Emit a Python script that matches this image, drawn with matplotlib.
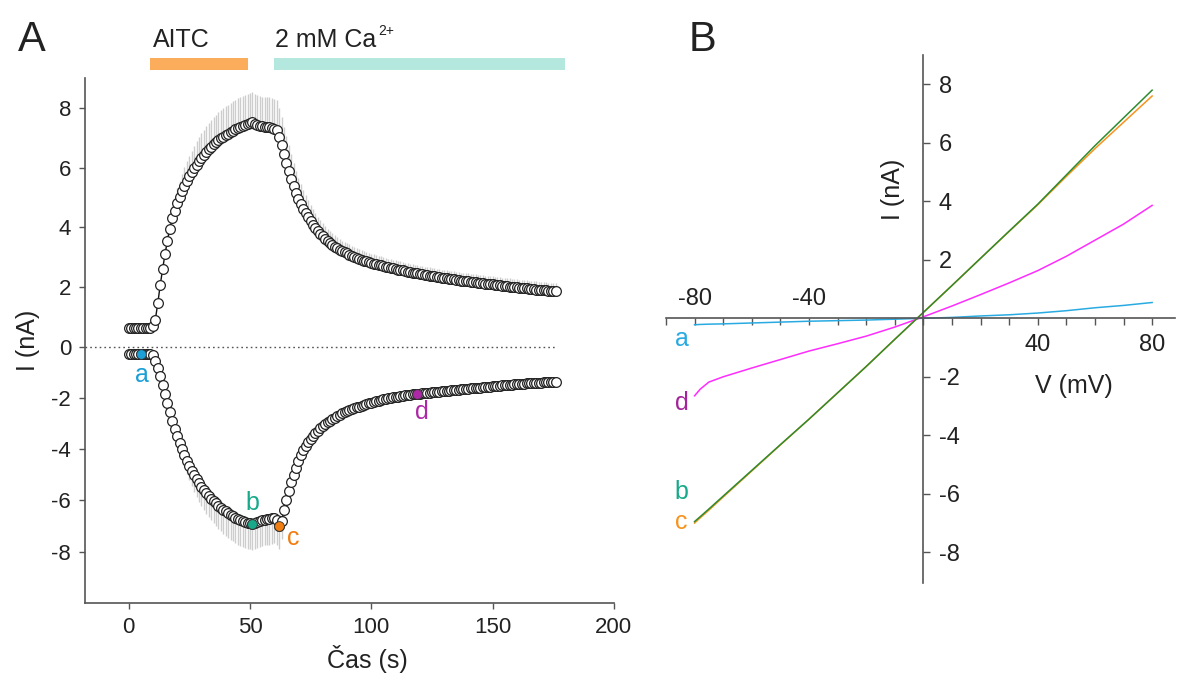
import numpy as np
import matplotlib
matplotlib.use("Agg")
import matplotlib.pyplot as plt
import matplotlib.transforms as mtransforms

plt.rcParams['font.family'] = ['Liberation Sans', 'DejaVu Sans']

# ---------------- panel A data (1 s sampling, 0..176 s) ----------------
time_s = np.arange(0, 177)

pos_current = [
    0.62, 0.62, 0.61, 0.62, 0.62, 0.61, 0.62, 0.62, 0.62, 0.63,
    0.68, 0.90, 1.45, 2.05, 2.60, 3.10, 3.55, 3.95, 4.30, 4.55,
    4.80, 5.00, 5.20, 5.38, 5.55, 5.70, 5.85, 5.98, 6.10, 6.22,
    6.33, 6.43, 6.53, 6.62, 6.70, 6.78, 6.85, 6.92, 6.98, 7.04,
    7.09, 7.14, 7.19, 7.24, 7.28, 7.32, 7.36, 7.40, 7.43, 7.47,
    7.50, 7.52, 7.46, 7.42, 7.40, 7.38, 7.37, 7.36, 7.35, 7.33,
    7.30, 7.25, 7.02, 6.75, 6.45, 6.15, 5.88, 5.62, 5.38, 5.16,
    4.96, 4.78, 4.62, 4.47, 4.33, 4.20, 4.08, 3.97, 3.87, 3.78,
    3.69, 3.61, 3.54, 3.47, 3.41, 3.35, 3.30, 3.25, 3.20, 3.16,
    3.12, 3.08, 3.04, 3.00, 2.97, 2.94, 2.91, 2.88, 2.85, 2.83,
    2.80, 2.78, 2.76, 2.74, 2.72, 2.70, 2.68, 2.66, 2.64, 2.62,
    2.60, 2.58, 2.56, 2.55, 2.53, 2.51, 2.50, 2.48, 2.46, 2.45,
    2.43, 2.42, 2.40, 2.39, 2.37, 2.36, 2.35, 2.33, 2.32, 2.31,
    2.30, 2.28, 2.27, 2.26, 2.25, 2.24, 2.22, 2.21, 2.20, 2.19,
    2.18, 2.17, 2.16, 2.15, 2.14, 2.13, 2.12, 2.11, 2.10, 2.09,
    2.08, 2.07, 2.06, 2.05, 2.04, 2.03, 2.02, 2.01, 2.00, 1.99,
    1.98, 1.97, 1.96, 1.95, 1.95, 1.94, 1.93, 1.92, 1.91, 1.90,
    1.90, 1.89, 1.88, 1.87, 1.87, 1.86, 1.85,
]

pos_sem = [
    0.05, 0.05, 0.05, 0.05, 0.05, 0.05, 0.05, 0.05, 0.05, 0.05,
    0.05, 0.08, 0.12, 0.15, 0.20, 0.25, 0.30, 0.35, 0.40, 0.45,
    0.50, 0.55, 0.60, 0.63, 0.66, 0.70, 0.72, 0.75, 0.78, 0.80,
    0.82, 0.84, 0.86, 0.88, 0.90, 0.91, 0.92, 0.93, 0.94, 0.95,
    0.96, 0.97, 0.98, 0.98, 0.99, 1.00, 1.00, 1.00, 1.00, 1.00,
    1.00, 1.00, 1.00, 1.00, 1.00, 1.00, 1.00, 1.00, 1.00, 1.00,
    1.00, 1.00, 0.98, 0.95, 0.92, 0.90, 0.86, 0.82, 0.78, 0.74,
    0.70, 0.67, 0.64, 0.61, 0.58, 0.55, 0.52, 0.50, 0.48, 0.46,
    0.44, 0.42, 0.41, 0.40, 0.39, 0.38, 0.37, 0.36, 0.35, 0.35,
    0.34, 0.34, 0.33, 0.33, 0.33, 0.32, 0.32, 0.32, 0.31, 0.31,
    0.31, 0.31, 0.30, 0.30, 0.30, 0.30, 0.30, 0.29, 0.29, 0.29,
    0.29, 0.29, 0.29, 0.29, 0.28, 0.28, 0.28, 0.28, 0.28, 0.28,
    0.28, 0.28, 0.28, 0.28, 0.28, 0.27, 0.27, 0.27, 0.27, 0.27,
    0.27, 0.27, 0.27, 0.27, 0.27, 0.27, 0.27, 0.27, 0.27, 0.27,
    0.27, 0.27, 0.27, 0.27, 0.27, 0.27, 0.27, 0.27, 0.27, 0.27,
    0.27, 0.27, 0.27, 0.27, 0.27, 0.27, 0.27, 0.27, 0.27, 0.27,
    0.27, 0.27, 0.27, 0.27, 0.27, 0.27, 0.27, 0.27, 0.27, 0.27,
    0.27, 0.27, 0.27, 0.27, 0.27, 0.27, 0.27,
]

neg_current = [
    -0.29, -0.30, -0.30, -0.29, -0.30, -0.30, -0.30, -0.29, -0.30, -0.30,
    -0.35, -0.55, -0.85, -1.15, -1.50, -1.85, -2.20, -2.55, -2.90, -3.20,
    -3.50, -3.75, -4.00, -4.22, -4.45, -4.65, -4.85, -5.02, -5.18, -5.33,
    -5.47, -5.60, -5.72, -5.83, -5.93, -6.03, -6.12, -6.20, -6.28, -6.36,
    -6.43, -6.50, -6.56, -6.62, -6.67, -6.72, -6.77, -6.81, -6.85, -6.88,
    -6.90, -6.92, -6.88, -6.84, -6.80, -6.77, -6.75, -6.73, -6.72, -6.70,
    -6.68, -6.75, -7.00, -6.82, -6.38, -5.98, -5.62, -5.30, -5.00, -4.72,
    -4.46, -4.24, -4.05, -3.88, -3.73, -3.60, -3.48, -3.38, -3.28, -3.19,
    -3.11, -3.03, -2.96, -2.89, -2.83, -2.77, -2.71, -2.66, -2.61, -2.56,
    -2.52, -2.48, -2.44, -2.40, -2.37, -2.34, -2.31, -2.28, -2.25, -2.22,
    -2.19, -2.16, -2.13, -2.11, -2.08, -2.06, -2.04, -2.02, -2.00, -1.98,
    -1.96, -1.95, -1.93, -1.92, -1.90, -1.89, -1.88, -1.87, -1.86, -1.85,
    -1.84, -1.83, -1.82, -1.81, -1.80, -1.79, -1.78, -1.77, -1.76, -1.75,
    -1.74, -1.73, -1.72, -1.71, -1.70, -1.69, -1.68, -1.67, -1.66, -1.65,
    -1.64, -1.63, -1.62, -1.62, -1.61, -1.60, -1.59, -1.58, -1.57, -1.56,
    -1.55, -1.55, -1.54, -1.53, -1.52, -1.51, -1.50, -1.50, -1.49, -1.48,
    -1.47, -1.47, -1.46, -1.45, -1.44, -1.44, -1.43, -1.42, -1.42, -1.41,
    -1.41, -1.40, -1.40, -1.39, -1.39, -1.38, -1.38,
]

neg_sem = [
    0.03, 0.03, 0.03, 0.03, 0.03, 0.03, 0.03, 0.03, 0.03, 0.03,
    0.03, 0.05, 0.07, 0.10, 0.13, 0.16, 0.20, 0.24, 0.28, 0.32,
    0.36, 0.40, 0.44, 0.48, 0.52, 0.56, 0.60, 0.64, 0.68, 0.72,
    0.75, 0.78, 0.80, 0.82, 0.84, 0.86, 0.88, 0.90, 0.92, 0.94,
    0.95, 0.96, 0.97, 0.98, 0.99, 1.00, 1.00, 1.00, 1.00, 1.00,
    1.00, 1.00, 1.00, 1.00, 1.00, 1.00, 1.00, 1.00, 1.00, 1.00,
    1.00, 1.00, 0.90, 0.70, 0.55, 0.45, 0.38, 0.32, 0.28, 0.25,
    0.23, 0.21, 0.20, 0.19, 0.18, 0.17, 0.16, 0.16, 0.15, 0.15,
    0.14, 0.14, 0.14, 0.13, 0.13, 0.13, 0.13, 0.12, 0.12, 0.12,
    0.12, 0.12, 0.12, 0.11, 0.11, 0.11, 0.11, 0.11, 0.11, 0.11,
    0.11, 0.11, 0.10, 0.10, 0.10, 0.10, 0.10, 0.10, 0.10, 0.10,
    0.10, 0.10, 0.10, 0.10, 0.10, 0.10, 0.10, 0.10, 0.10, 0.10,
    0.10, 0.10, 0.10, 0.10, 0.10, 0.10, 0.10, 0.10, 0.10, 0.10,
    0.10, 0.10, 0.10, 0.10, 0.10, 0.10, 0.10, 0.10, 0.10, 0.10,
    0.10, 0.10, 0.10, 0.10, 0.10, 0.10, 0.10, 0.10, 0.10, 0.10,
    0.10, 0.10, 0.10, 0.10, 0.10, 0.10, 0.10, 0.10, 0.10, 0.10,
    0.10, 0.10, 0.10, 0.10, 0.10, 0.10, 0.10, 0.10, 0.10, 0.10,
    0.10, 0.10, 0.10, 0.10, 0.10, 0.10, 0.10,
]

# marked sample times (s) and their colours
mark_names = ['a', 'b', 'c', 'd']
mark_times = [5, 51, 62, 119]
mark_colors = ['#1b9fd6', '#17a98a', '#f07e12', '#ad28a6']
label_colors_b = ['#29abe2', '#17a98a', '#f7931e', '#a3249b']

# application bars (s)
aitc_span = (9, 49)
ca_span = (60, 180)

# ---------------- panel B data (I-V ramps) ----------------
volt_mv = [-80, -78, -75, -70, -60, -50, -40, -30, -20, -10, 0, 10, 20, 30, 40, 50, 60, 70, 80]
iv_a = [-0.22, -0.21, -0.20, -0.19, -0.16, -0.13, -0.10, -0.08, -0.06, -0.03, 0.0,
        0.03, 0.08, 0.12, 0.18, 0.26, 0.36, 0.44, 0.54]
iv_b = [-6.95, -6.78, -6.52, -6.08, -5.20, -4.32, -3.45, -2.55, -1.65, -0.72, 0.20,
        1.12, 2.05, 2.98, 3.90, 4.90, 5.90, 6.85, 7.80]
iv_c = [-7.00, -6.82, -6.56, -6.11, -5.22, -4.33, -3.45, -2.55, -1.65, -0.72, 0.20,
        1.12, 2.05, 2.97, 3.88, 4.85, 5.80, 6.70, 7.60]
iv_d = [-2.65, -2.42, -2.18, -2.00, -1.70, -1.41, -1.12, -0.87, -0.61, -0.30, 0.05,
        0.42, 0.81, 1.21, 1.63, 2.12, 2.67, 3.22, 3.86]
iv_colors = {'a': '#29abe2', 'b': '#2e8b2e', 'c': '#f7931e', 'd': '#ff2cff'}

TXT = '#222222'
SPINE = '#555555'
FS = 16     # tick labels
FL = 18     # labels and letters

fig = plt.figure(figsize=(11.77, 6.73), dpi=100)

# ---------------- panel A ----------------
axA = fig.add_axes([0.0722, 0.104, 0.4494, 0.780])

NEG_RATIO = 0.86  # negative half of the axis is compressed in the original


def fwd(y):
    y = np.asarray(y, dtype=float)
    return np.where(y < 0, y * NEG_RATIO, y)


def inv(y):
    y = np.asarray(y, dtype=float)
    return np.where(y < 0, y / NEG_RATIO, y)


axA.set_yscale('function', functions=(fwd, inv))

pos = np.array(pos_current)
neg = np.array(neg_current)
axA.vlines(time_s, pos, pos + np.array(pos_sem), color='#cdcdcd', lw=1.0, zorder=1)
axA.vlines(time_s, neg, neg - np.array(neg_sem), color='#cdcdcd', lw=1.0, zorder=1)
axA.plot([-18, 176], [0, 0], ls=(0, (1.2, 2.2)), color='#555555', lw=1.0, zorder=2)

for y in (pos, neg):
    axA.plot(time_s, y, color='#111111', lw=1.0, marker='o', ms=7,
             mfc='white', mec='#222222', mew=0.9, zorder=3)

for name, t, col in zip(mark_names, mark_times, mark_colors):
    axA.plot(t, neg[t], 'o', ms=7, mfc=col, mec='#333333', mew=0.6, zorder=4)

axA.text(5.5, -1.1, 'a', color=mark_colors[0], fontsize=FL, ha='center', va='center')
axA.text(51, -6.1, 'b', color=mark_colors[1], fontsize=FL, ha='center', va='center')
axA.text(68, -7.45, 'c', color=mark_colors[2], fontsize=FL, ha='center', va='center')
axA.text(121, -2.55, 'd', color=mark_colors[3], fontsize=FL, ha='center', va='center')

axA.set_xlim(-18, 200)
axA.set_ylim(-10, 9)
axA.set_xticks([0, 50, 100, 150, 200])
axA.set_yticks([-8, -6, -4, -2, 0, 2, 4, 6, 8])
axA.set_yticklabels(['-8', '-6', '-4', '-2', '0', '2', '4', '6', '8'])
axA.spines['top'].set_visible(False)
axA.spines['right'].set_visible(False)
for s in ('left', 'bottom'):
    axA.spines[s].set_color(SPINE)
    axA.spines[s].set_linewidth(1.2)
axA.tick_params(length=4, width=1, color=SPINE, labelsize=FS, labelcolor=TXT, pad=6)
axA.text(0.533, -0.107, 'Čas (s)', transform=axA.transAxes, fontsize=FL, color=TXT,
         ha='center', va='center')
axA.set_ylabel('I (nA)', fontsize=FL, color=TXT, labelpad=8)

# application bars above the axes
trans = mtransforms.blended_transform_factory(axA.transData, axA.transAxes)
axA.add_patch(plt.Rectangle((aitc_span[0], 1.015), aitc_span[1] - aitc_span[0], 0.023,
                            transform=trans, color='#fbad5c', clip_on=False, lw=0))
axA.add_patch(plt.Rectangle((ca_span[0], 1.015), ca_span[1] - ca_span[0], 0.023,
                            transform=trans, color='#b4e8df', clip_on=False, lw=0))
axA.text(aitc_span[0] + 1, 1.05, 'AITC', transform=trans, fontsize=FL, color=TXT,
         ha='left', va='bottom')
ca_txt = axA.text(ca_span[0] + 0.5, 1.05, '2 mM Ca', transform=trans, fontsize=FL,
                  color=TXT, ha='left', va='bottom')
axA.annotate('2+', xy=(1, 0.58), xycoords=ca_txt, xytext=(1, 0), textcoords='offset points',
             fontsize=10, color=TXT, ha='left', va='bottom')

fig.text(0.015, 0.94, 'A', fontsize=30, color=TXT, ha='left', va='center')
fig.text(0.585, 0.94, 'B', fontsize=30, color=TXT, ha='left', va='center')

# ---------------- panel B ----------------
axB = fig.add_axes([0.5658, 0.1337, 0.4325, 0.7845])
axB.plot(volt_mv, iv_a, color=iv_colors['a'], lw=1.1)
axB.plot(volt_mv, iv_d, color=iv_colors['d'], lw=1.1)
axB.plot(volt_mv, iv_c, color=iv_colors['c'], lw=1.1)
axB.plot(volt_mv, iv_b, color=iv_colors['b'], lw=1.1)

axB.set_xlim(-90, 88)
axB.set_ylim(-9.05, 9.0)
axB.spines['top'].set_visible(False)
axB.spines['left'].set_visible(False)
axB.spines['right'].set_position(('data', 0))
axB.spines['bottom'].set_position(('data', 0))
for s in ('right', 'bottom'):
    axB.spines[s].set_color(SPINE)
    axB.spines[s].set_linewidth(1.2)
axB.yaxis.set_ticks_position('right')

v_ticks = [-80, -40, 40, 80]
axB.set_xticks(v_ticks)
axB.set_xticklabels([str(v) if v > 0 else '' for v in v_ticks])
axB.set_xticks(np.arange(-90, 81, 10), minor=True)
i_ticks = [-8, -6, -4, -2, 2, 4, 6, 8]
axB.set_yticks(i_ticks)
axB.set_yticklabels([str(v) for v in i_ticks])
axB.tick_params(which='both', length=5, width=1, color=SPINE, labelsize=FS + 1,
                labelcolor=TXT, pad=6, direction='out')
for v in v_ticks:
    if v < 0:
        axB.text(v, 0.3, str(v), fontsize=FS + 1, color=TXT, ha='center', va='bottom')

axB.text(-10.5, 4.4, 'I (nA)', rotation=90, fontsize=FL, color=TXT, ha='center', va='center')
axB.text(52.5, -2.3, 'V (mV)', fontsize=FL, color=TXT, ha='center', va='center')

axB.text(-84.5, -0.7, 'a', color=label_colors_b[0], fontsize=FL, ha='center', va='center')
axB.text(-84.5, -2.9, 'd', color=label_colors_b[3], fontsize=FL, ha='center', va='center')
axB.text(-84.5, -5.95, 'b', color=label_colors_b[1], fontsize=FL, ha='center', va='center')
axB.text(-84.5, -6.95, 'c', color=label_colors_b[2], fontsize=FL, ha='center', va='center')

fig.savefig('out.png', dpi=100)
